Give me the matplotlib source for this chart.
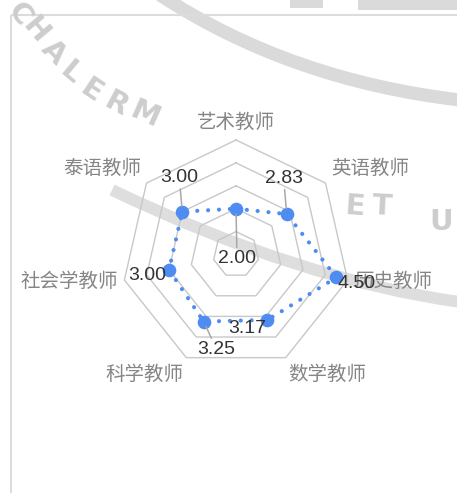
import numpy as np
import matplotlib
matplotlib.use('Agg')
import matplotlib.pyplot as plt
from matplotlib.path import Path
from matplotlib.patches import PathPatch, Rectangle

# data
categories = ['艺术教师', '英语教师', '历史教师', '数学教师', '科学教师', '社会学教师', '泰语教师']
values = [2.00, 2.83, 4.50, 3.17, 3.25, 3.00, 3.00]
levels = [1, 2, 3, 4, 5]

# label offsets in pixels (x right, y up) and whether a leader line is drawn
label_offsets = [(1, -50), (-3, 36), (20, -6), (-20, -9), (13, -28), (-22, -6), (-3, 34)]
leaders = [True, True, False, False, True, False, True]

W, H = 457, 493
fig = plt.figure(figsize=(W / 100, H / 100), dpi=100)
fig.patch.set_facecolor('white')

# background layer in pixel coords (frame + faint watermark)
bg = fig.add_axes([0, 0, 1, 1], zorder=0)
bg.set_xlim(0, W)
bg.set_ylim(H, 0)
bg.axis('off')

wm = '#dadada'
band1 = Path([(160, -5), (290, 80), (460, 100)], [Path.MOVETO, Path.CURVE3, Path.CURVE3])
band2 = Path([(112, 190), (300, 280), (460, 302)], [Path.MOVETO, Path.CURVE3, Path.CURVE3])
bg.add_patch(PathPatch(band1, fc='none', ec=wm, lw=9.5, capstyle='butt'))
bg.add_patch(PathPatch(band2, fc='none', ec='#dedede', lw=8.5, capstyle='butt'))
bg.add_patch(Rectangle((290, -2), 33, 10, fc=wm, ec='none'))
bg.add_patch(Rectangle((358, -2), 100, 12, fc=wm, ec='none'))

wm_letters = [('C', 19, 14, -55), ('H', 35, 30, -50), ('A', 53, 52, -45), ('L', 71, 73, -40),
              ('E', 91, 91, -34), ('R', 116, 104, -28), ('M', 145, 115, -24),
              ('E', 355, 207, -4), ('T', 382, 207, -3), ('U', 441, 222, 0)]
for ch, x, y, rot in wm_letters:
    bg.text(x, y, ch, fontsize=21, fontweight='bold', color='#cdcdcd', rotation=rot,
            ha='center', va='center', family='DejaVu Sans')

bg.add_patch(Rectangle((10.5, 15), 460, 500, fc='none', ec='#dcdcdc', lw=1.5))

# radar chart
cx, cy, R = 236, 254.5, 114.5
ax = fig.add_axes([(cx - R) / W, (H - cy - R) / H, 2 * R / W, 2 * R / H],
                  projection='polar', zorder=1)
ax.set_theta_offset(np.pi / 2)
ax.set_theta_direction(-1)
ax.set_ylim(0, 5)
ax.set_axis_off()

n = len(categories)
angles = np.linspace(0, 2 * np.pi, n, endpoint=False)
ang_c = np.append(angles, angles[0])

for lev in levels:
    ax.plot(ang_c, [lev] * (n + 1), color='#c8c8c8', lw=1, zorder=1, clip_on=False)

blue = '#4f8cf2'
ax.plot(ang_c, values + values[:1], color=blue, lw=3.0, ls=(0, (0.01, 2.6)),
        dash_capstyle='round', zorder=3, clip_on=False)
ax.plot(angles, values, 'o', color=blue, ms=8.8, zorder=5, clip_on=False)

# category labels
for a, cat in zip(angles, categories):
    s, c = np.sin(a), np.cos(a)
    ha = 'left' if s > 0.1 else ('right' if s < -0.1 else 'center')
    va = 'bottom' if c > 0.3 else ('top' if c < -0.3 else 'center')
    ax.text(a, 5.3, cat, ha=ha, va=va, fontsize=14, color='#858585',
            family=['Noto Sans CJK SC', 'DejaVu Sans'], zorder=4)

# value labels
for a, v, off, lead in zip(angles, values, label_offsets, leaders):
    kw = {}
    if lead:
        kw['arrowprops'] = dict(arrowstyle='-', color='#a8a8a8', lw=1.1, shrinkA=0, shrinkB=4)
    ax.annotate(f'{v:.2f}', xy=(a, v), xytext=off, textcoords='offset pixels',
                ha='center', va='center', fontsize=14, color='#333333',
                family='Liberation Sans', zorder=6, annotation_clip=False, **kw)

fig.savefig('out.png', dpi=100)
